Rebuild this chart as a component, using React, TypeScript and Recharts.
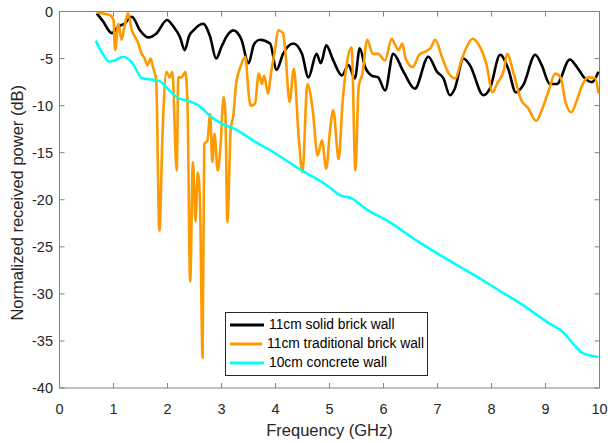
import type { ReactElement } from "react";
import { LineChart, Line, XAxis, YAxis, Legend, ReferenceLine } from "recharts";

// tick labels
const xTicks = [0, 1, 2, 3, 4, 5, 6, 7, 8, 9, 10];
const yTicks = [0, -5, -10, -15, -20, -25, -30, -35, -40];

const seriesNames = [
  "11cm solid brick wall",
  "11cm traditional brick wall",
  "10cm concrete wall",
];

// 11cm solid brick wall (black)
const solidFreq = [
  0.69, 0.8, 0.97, 1.09, 1.2, 1.34, 1.49, 1.64, 1.8, 1.99, 2.11, 2.23, 2.32, 2.4, 2.48,
  2.66, 2.79, 2.9, 3.0, 3.1, 3.22, 3.37, 3.5, 3.6, 3.71, 3.9, 4.02, 4.14, 4.33, 4.49,
  4.61, 4.76, 4.84, 4.94, 5.07, 5.23, 5.35, 5.47, 5.56, 5.66, 5.78, 5.9, 6.03, 6.18,
  6.37, 6.58, 6.83, 6.99, 7.11, 7.23, 7.32, 7.48, 7.6, 7.85, 7.97, 8.16, 8.31, 8.45,
  8.59, 8.81, 8.93, 9.08, 9.21, 9.45, 9.58, 9.73, 9.86, 9.98,
];
const solidDb = [
  -0.2, -1.0, -2.3, -1.6, -1.3, -0.55, -2.0, -2.75, -2.3, -0.9, -1.6, -2.7, -4.1, -2.6, -2.0,
  -1.3, -2.7, -5.0, -3.75, -2.6, -2.0, -3.0, -5.5, -3.5, -3.0, -3.4, -6.2, -4.5, -3.4, -4.5,
  -7.0, -4.5, -5.5, -3.6, -5.2, -6.8, -5.7, -7.1, -3.9, -5.9, -6.8, -7.0, -8.4, -4.5,
  -6.4, -8.2, -4.8, -6.4, -7.1, -8.9, -8.2, -5.0, -5.7, -8.9, -8.2, -4.6, -6.1, -8.6,
  -7.8, -4.6, -5.7, -7.7, -7.7, -5.1, -5.9, -7.1, -7.5, -6.4,
];

// 11cm traditional brick wall (orange)
const tradFreq = [
  0.69, 0.8, 0.94, 1.0, 1.03, 1.09, 1.15, 1.21, 1.27, 1.34, 1.4, 1.46, 1.52, 1.58, 1.63,
  1.69, 1.73, 1.79, 1.85, 1.91, 1.98, 2.04, 2.09, 2.17, 2.2, 2.26, 2.33, 2.37, 2.42, 2.47,
  2.52, 2.56, 2.6, 2.65, 2.68, 2.74, 2.79, 2.83, 2.87, 2.93, 2.98, 3.04, 3.07, 3.11, 3.17,
  3.22, 3.27, 3.35, 3.44, 3.51, 3.54, 3.62, 3.69, 3.75, 3.79, 3.86, 3.92, 3.99, 4.05, 4.1,
  4.14, 4.18, 4.26, 4.34, 4.43, 4.5, 4.59, 4.69, 4.78, 4.86, 4.94, 5.01, 5.07, 5.17, 5.24,
  5.33, 5.41, 5.48, 5.54, 5.61, 5.7, 5.8, 5.9, 6.03, 6.15, 6.22, 6.28, 6.35, 6.41, 6.54,
  6.66, 6.76, 6.87, 6.96, 7.08, 7.21, 7.33, 7.43, 7.53, 7.65, 7.75, 7.91, 8.02, 8.1, 8.23,
  8.29, 8.41, 8.55, 8.67, 8.83, 8.93, 9.06, 9.18, 9.28, 9.37, 9.48, 9.57, 9.69, 9.79, 9.92,
  9.98,
];
const tradDb = [
  -0.1, -0.2, -0.4, -0.9, -4.1, -1.3, -3.0, -1.4, -0.2, -2.0, -2.7, -3.4, -4.5, -5.0, -5.7,
  -5.0, -5.9, -7.3, -23.3, -12.6, -6.4, -7.0, -6.4, -16.9, -7.0, -7.0, -6.4, -9.8, -28.7, -16.0,
  -22.3, -17.1, -19.8, -36.8, -14.1, -13.7, -10.9, -16.0, -13.0, -16.9, -14.4, -9.1, -10.5, -22.4, -12.6,
  -11.0, -7.7, -5.9, -4.8, -9.1, -10.0, -9.8, -6.6, -7.7, -6.8, -8.7, -6.4, -4.1, -2.0, -2.1,
  -2.3, -4.1, -9.6, -6.1, -13.4, -17.1, -7.7, -10.5, -15.3, -13.7, -16.7, -12.6, -10.5, -15.7, -9.8,
  -5.2, -3.8, -16.9, -8.0, -6.6, -3.0, -4.5, -4.5, -5.2, -2.9, -3.6, -4.1, -3.4, -5.0, -5.9,
  -4.6, -4.3, -3.9, -3.0, -4.8, -6.6, -7.1, -5.4, -3.9, -2.9, -3.4, -5.7, -8.6, -7.7, -6.2,
  -4.5, -6.6, -9.4, -10.2, -11.6, -10.5, -8.4, -6.6, -7.0, -9.6, -10.7, -9.6, -7.7, -7.0, -7.1,
  -8.7,
];

// 10cm concrete wall (cyan)
const concreteFreq = [
  0.67, 0.8, 0.92, 1.02, 1.18, 1.34, 1.53, 1.66, 1.85, 2.04, 2.2, 2.39, 2.58, 2.81, 3.0,
  3.25, 3.64, 3.95, 4.46, 4.91, 5.23, 5.39, 5.68, 6.12, 6.63, 7.14, 7.65, 8.16, 8.61, 9.06,
  9.31, 9.5, 9.69, 9.98,
];
const concreteDb = [
  -3.1, -4.5, -5.3, -5.2, -4.8, -5.4, -7.1, -7.2, -7.4, -8.4, -9.2, -9.5, -10.0, -11.2, -11.9,
  -12.5, -13.9, -14.9, -16.8, -18.3, -19.6, -19.8, -21.0, -22.4, -24.4, -26.2, -27.9, -29.7, -31.3, -33.1,
  -34.0, -35.2, -36.3, -36.7,
];

const toPoints = (freq: number[], db: number[]) =>
  freq.map((f, i) => ({ freq: f, db: db[i] }));

const solidData = toPoints(solidFreq, solidDb);
const tradData = toPoints(tradFreq, tradDb);
const concreteData = toPoints(concreteFreq, concreteDb);

const FONT = "'Liberation Sans', Arial, sans-serif";
const AXIS = "#808080";
const TEXT = "#262626";

// plot box (matlab style, ticks pointing inward on all four sides)
const PLOT_LEFT = 59.5;
const PLOT_RIGHT = 599.5;
const PLOT_TOP = 11.5;
const PLOT_BOTTOM = 388;
const TICK = 5;

function XTick({ x, payload }: any): ReactElement {
  return (
    <g>
      <line x1={x} x2={x} y1={PLOT_BOTTOM} y2={PLOT_BOTTOM - TICK} stroke={AXIS} />
      <line x1={x} x2={x} y1={PLOT_TOP} y2={PLOT_TOP + TICK} stroke={AXIS} />
      <text x={x} y={PLOT_BOTTOM + 25.5} textAnchor="middle" fill={TEXT} fontSize={14.5} fontFamily={FONT}>
        {payload.value}
      </text>
    </g>
  );
}

function YTick({ y, payload }: any): ReactElement {
  return (
    <g>
      <line x1={PLOT_LEFT} x2={PLOT_LEFT + TICK} y1={y} y2={y} stroke={AXIS} />
      <line x1={PLOT_RIGHT} x2={PLOT_RIGHT - TICK} y1={y} y2={y} stroke={AXIS} />
      <text x={PLOT_LEFT - 6.5} y={y} dy="0.36em" textAnchor="end" fill={TEXT} fontSize={14.5} fontFamily={FONT}>
        {payload.value}
      </text>
    </g>
  );
}

function YLabel({ viewBox }: any): ReactElement {
  const cx = viewBox.x + 17;
  const cy = viewBox.y + viewBox.height / 2 + 3;
  return (
    <text
      x={cx}
      y={cy}
      transform={`rotate(-90 ${cx} ${cy})`}
      textAnchor="middle"
      dominantBaseline="central"
      fill={TEXT}
      fontSize={16.5}
      fontFamily={FONT}
    >
      Normalized received power (dB)
    </text>
  );
}

function XLabel({ viewBox }: any): ReactElement {
  return (
    <text
      x={viewBox.x + viewBox.width / 2}
      y={viewBox.y + 48}
      textAnchor="middle"
      fill={TEXT}
      fontSize={16.5}
      fontFamily={FONT}
    >
      Frequency (GHz)
    </text>
  );
}

function LegendBox({ payload }: any): ReactElement {
  const items = [...(payload ?? [])].sort(
    (a: any, b: any) => seriesNames.indexOf(a.value) - seriesNames.indexOf(b.value)
  );
  return (
    <div
      style={{
        border: "1px solid #262626",
        background: "#fff",
        padding: "2px 3px 3px 4px",
        fontFamily: FONT,
        fontSize: 13.8,
        color: "#000",
        width: 194,
      }}
    >
      {items.map((p: any) => (
        <div key={p.value} style={{ display: "flex", alignItems: "center", height: 19 }}>
          <svg width={34} height={4} style={{ display: "block" }}>
            <line x1={0} y1={2} x2={34} y2={2} stroke={p.color} strokeWidth={3} />
          </svg>
          <span style={{ marginLeft: 5, whiteSpace: "nowrap" }}>{p.value}</span>
        </div>
      ))}
    </div>
  );
}

export default function App(): ReactElement {
  return (
    <div style={{ position: "absolute", left: 0, top: 0, background: "#fff" }}>
      <LineChart
        width={608}
        height={443}
        margin={{ top: PLOT_TOP, right: 608 - PLOT_RIGHT, left: 0, bottom: 0 }}
      >
        <XAxis
          dataKey="freq"
          type="number"
          domain={[0, 10]}
          ticks={xTicks}
          allowDataOverflow
          height={443 - PLOT_BOTTOM}
          tick={<XTick />}
          tickLine={false}
          stroke={AXIS}
          label={<XLabel />}
        />
        <YAxis
          type="number"
          domain={[-40, 0]}
          ticks={yTicks}
          allowDataOverflow
          width={PLOT_LEFT}
          tick={<YTick />}
          tickLine={false}
          stroke={AXIS}
          label={<YLabel />}
        />
        <ReferenceLine y={0} stroke={AXIS} />
        <ReferenceLine x={10} stroke={AXIS} />
        <Legend
          layout="vertical"
          align="center"
          verticalAlign="middle"
          wrapperStyle={{ left: 225, top: 312, width: "auto" }}
          content={<LegendBox />}
        />
        <Line
          data={solidData}
          dataKey="db"
          name={seriesNames[0]}
          type="monotone"
          stroke="#000000"
          strokeWidth={2.6}
          dot={false}
          isAnimationActive={false}
        />
        <Line
          data={tradData}
          dataKey="db"
          name={seriesNames[1]}
          type="monotone"
          stroke="#FF9900"
          strokeWidth={2.6}
          dot={false}
          isAnimationActive={false}
        />
        <Line
          data={concreteData}
          dataKey="db"
          name={seriesNames[2]}
          type="monotone"
          stroke="#00FFFF"
          strokeWidth={2.6}
          dot={false}
          isAnimationActive={false}
        />
      </LineChart>
    </div>
  );
}
